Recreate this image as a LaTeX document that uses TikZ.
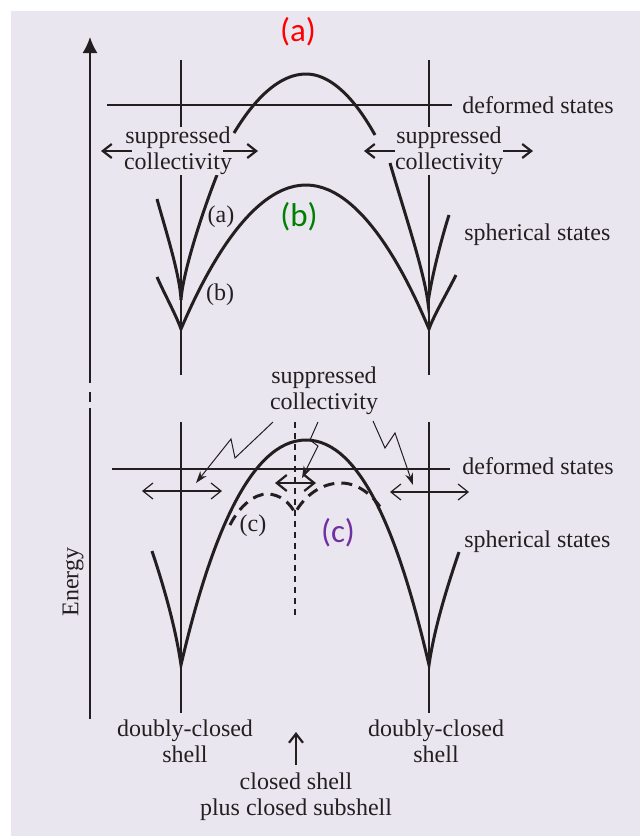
\documentclass[tikz,border=0pt]{standalone}
\usepackage{fontspec}
\setmainfont{Liberation Serif}
\newfontfamily\tagfont{Carlito}
\usetikzlibrary{arrows.meta, positioning}
\definecolor{bgcol}{RGB}{234,230,240}
\definecolor{inkcol}{RGB}{35,31,32}
\definecolor{tagred}{RGB}{255,0,0}
\definecolor{taggreen}{RGB}{0,128,0}
\definecolor{tagpurple}{RGB}{112,48,160}

\begin{document}
\begin{tikzpicture}[
    x=0.5pt, y=-0.5pt,
    % Curvas de energia: trazo grueso negro
    curve/.style={line width=1.5pt, draw=inkcol},
    dcurve/.style={curve, dash pattern=on 5.5pt off 3.5pt},
    guide/.style={line width=0.6pt, draw=inkcol},
    axisline/.style={line width=0.8pt, draw=inkcol},
    txt/.style={font=\fontsize{12}{13}\selectfont, text=inkcol, align=center, inner sep=0pt},
    tag/.style={font=\fontsize{16.5}{18}\tagfont, inner sep=0pt},
    sarr/.style={-{Straight Barb[length=4.5pt,width=7pt]}, line width=1.1pt, draw=inkcol},
    darr/.style={{Straight Barb[length=5pt,width=8pt]}-{Straight Barb[length=5pt,width=8pt]}, line width=0.6pt, draw=inkcol},
    zarr/.style={-{Stealth[length=6pt,width=4pt]}, line width=0.5pt, draw=inkcol}
]

    % --- FONDO ---
    \useasboundingbox (0,0) rectangle (640,836);
    \fill[bgcol] (11,11) rectangle (640,836);

    % --- EJE DE ENERGIA ---
    \coordinate (axbot) at (90,719);
    \coordinate (axgapA) at (90,408);
    \coordinate (axdashA) at (90,402);
    \coordinate (axdashB) at (90,392);
    \coordinate (axgapB) at (90,383);
    \coordinate (axtop) at (90,37);
    \draw[axisline] (axbot) -- (axgapA);
    \draw[axisline] (axdashA) -- (axdashB);
    \draw[axisline, -{Latex[length=8pt,width=7.5pt]}] (axgapB) -- (axtop);
    \node[txt, rotate=90] (energy) at (73,582) {Energy};

    % --- PANEL SUPERIOR ---
    \node[tag, text=tagred] (tagA) at (298,32) {(a)};
    \node[txt, anchor=west] (defA) at (462,105) {deformed states};
    \node[txt, anchor=west] (sphA) at (464,235) {spherical states};
    \coordinate (defAstart) at (107,105);
    \draw[guide] (defAstart) -- ([xshift=-5pt]defA.west);
    \draw[guide] (181,60) -- (181,375);
    \draw[guide] (429,60) -- (429,375);

    % curva (a) superior y ramas en cuspide
    \draw[curve] (234,133) parabola bend (306,74) (375,135);
    \draw[curve] (157,199) .. controls (165,228) and (180,275) .. (181,300)
                           .. controls (183,270) and (205,205) .. (217,175);
    \draw[curve] (390,163) .. controls (402,205) and (424,270) .. (428,303)
                           .. controls (431,280) and (441,240) .. (449,215);
    % curva (b)
    \draw[curve] (157,277) .. controls (165,295) and (176,315) .. (181,329)
                 parabola bend (306,185) (429,329)
                 .. controls (434,315) and (446,295) .. (456,275);

    \node[txt] (lblA) at (221,217) {(a)};
    \node[txt] (lblB) at (220,295) {(b)};
    \node[tag, text=taggreen] (tagB) at (299,217) {(b)};

    \node[txt, fill=bgcol] (supL) at (178,151) {suppressed\\collectivity};
    \node[txt, fill=bgcol] (supR) at (449,151) {suppressed\\collectivity};
    \coordinate (supLa) at (132,151);
    \coordinate (supLb) at (101,151);
    \coordinate (supLc) at (223,151);
    \coordinate (supLd) at (258,151);
    \coordinate (supRa) at (395,151);
    \coordinate (supRb) at (364,151);
    \coordinate (supRc) at (503,151);
    \coordinate (supRd) at (533,151);
    \draw[sarr] (supLa) -- (supLb);
    \draw[sarr] (supLc) -- (supLd);
    \draw[sarr] (supRa) -- (supRb);
    \draw[sarr] (supRc) -- (supRd);

    % --- PANEL INFERIOR ---
    \node[txt, anchor=west] (defB) at (462,466) {deformed states};
    \node[txt, anchor=west] (sphB) at (464,542) {spherical states};
    \coordinate (defBstart) at (112,469);
    \draw[guide] (defBstart) -- ([xshift=-6pt,yshift=-1.5pt]defB.west);
    \draw[guide] (181,422) -- (181,713);
    \draw[guide] (429,422) -- (429,713);
    \draw[guide, dash pattern=on 3pt off 2.5pt] (295,422) -- (295,618);

    % curva (c): arco completo y variante discontinua
    \draw[curve] (152,551) .. controls (165,590) and (176,630) .. (181,665)
                           .. controls (210,540) and (250,440) .. (306,440)
                           .. controls (362,440) and (400,540) .. (429,665)
                           .. controls (434,630) and (446,590) .. (459,552);
    \draw[dcurve] (230,525) .. controls (240,505) and (255,494) .. (267,494)
                            .. controls (280,494) and (290,503) .. (295,513)
                            .. controls (305,495) and (322,483) .. (341,483)
                            .. controls (360,483) and (375,498) .. (382,510);

    \node[txt] (lblC) at (253,526) {(c)};
    \node[tag, text=tagpurple] (tagC) at (338,533) {(c)};

    \coordinate (dlA) at (142,491);
    \coordinate (dlB) at (222,491);
    \coordinate (dmA) at (275,483);
    \coordinate (dmB) at (316,483);
    \coordinate (drA) at (390,492);
    \coordinate (drB) at (469,492);
    \draw[darr] (dlA) -- (dlB);
    \draw[darr, line width=1.1pt] (dmA) -- (dmB);
    \draw[darr] (drA) -- (drB);

    % flechas en zigzag desde la etiqueta central
    \node[txt] (supC) at (324,391) {suppressed\\collectivity};
    \coordinate (zlS) at (273,422);
    \coordinate (zlT) at (196,483);
    \coordinate (zmS) at (318,422);
    \coordinate (zmT) at (302,478);
    \coordinate (zrS) at (373,421);
    \coordinate (zrT) at (413,485);
    \draw[zarr] (zlS) -- (235,458) -- (231,439) -- (zlT);
    \draw[zarr] (zmS) -- (310,440) -- (318,446) -- (zmT);
    \draw[zarr] (zrS) -- (385,448) -- (395,433) -- (zrT);

    % --- ETIQUETAS INFERIORES ---
    \node[txt] (dcsL) at (185,741) {doubly-closed\\shell};
    \node[txt] (dcsR) at (436,741) {doubly-closed\\shell};
    \node[txt] (csub) at (296,797) {closed shell\\plus closed subshell};
    \coordinate (csubA) at (296,765);
    \coordinate (csubT) at (296,732);
    \draw[sarr] (csubA) -- (csubT);

\end{tikzpicture}
\end{document}
